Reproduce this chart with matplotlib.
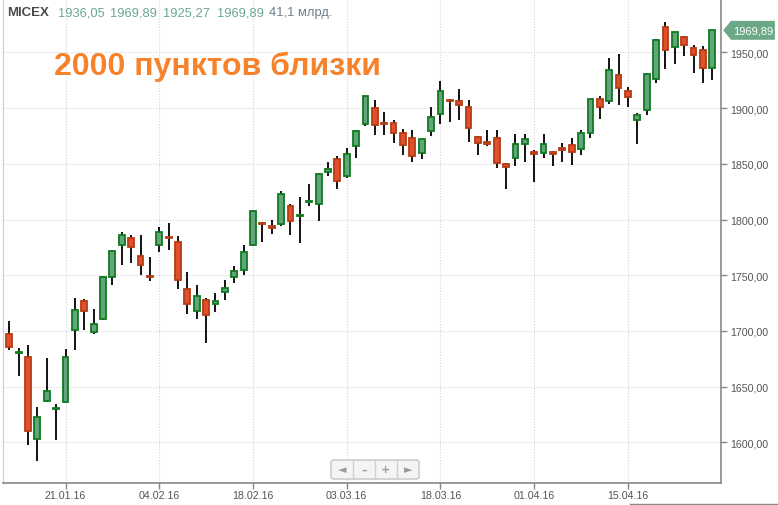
import numpy as np
import matplotlib
matplotlib.use("Agg")
import matplotlib.pyplot as plt
import matplotlib.transforms as mtransforms
from matplotlib.patches import Polygon, FancyBboxPatch
from matplotlib.lines import Line2D

plt.rcParams['font.family'] = ['Liberation Sans', 'DejaVu Sans']

# daily candles, 13.01.16 .. 22.04.16
opens = [1697, 1680, 1677, 1603, 1637, 1630, 1636, 1701, 1727, 1699,
         1711, 1748, 1777, 1783, 1767, 1749, 1777, 1784, 1780, 1738,
         1718, 1728, 1724, 1735, 1748, 1755, 1777, 1797, 1794, 1796,
         1812, 1803.5, 1816, 1814, 1843, 1854, 1839, 1866, 1885.5, 1900,
         1887, 1887, 1878, 1873, 1860, 1879.5, 1895, 1907, 1906, 1901,
         1874, 1870, 1873, 1850, 1855, 1867.5, 1861, 1860, 1861, 1864,
         1866.5, 1863, 1878, 1908, 1906, 1930, 1915, 1889, 1898, 1926,
         1972.5, 1955, 1963.5, 1954, 1952, 1936.05]
highs = [1709, 1685, 1687, 1632, 1676, 1634, 1684, 1730, 1729, 1720,
         1749, 1773, 1789, 1786, 1786, 1766, 1793, 1797, 1785, 1753,
         1741, 1730, 1734, 1746, 1758, 1777, 1809, 1797.5, 1800, 1826,
         1814, 1820, 1832, 1842, 1852, 1857, 1864, 1880, 1911, 1907,
         1897, 1889, 1881, 1880, 1872, 1901, 1924, 1908, 1917, 1907,
         1875, 1880, 1880, 1851, 1877, 1877, 1862, 1877, 1861.5, 1869,
         1873, 1880, 1908, 1911, 1945, 1949, 1919, 1896, 1931.5, 1962,
         1977, 1968, 1965, 1957, 1956, 1969.89]
lows = [1683, 1660, 1598, 1583, 1636, 1602, 1635, 1683, 1701, 1697,
        1710, 1741, 1759, 1761, 1750, 1745, 1771, 1773, 1738, 1715,
        1711, 1689, 1717, 1728, 1743, 1750, 1776, 1780, 1787, 1794,
        1786, 1779, 1812, 1799, 1839, 1827, 1837, 1855, 1884, 1876,
        1876, 1869, 1858, 1852, 1854, 1875, 1886, 1888, 1889, 1870,
        1858, 1866, 1846, 1827, 1848, 1852, 1834, 1855, 1848, 1852,
        1849, 1858, 1873, 1890, 1904, 1903, 1901, 1868, 1894, 1923,
        1935, 1939.5, 1946.5, 1932, 1923, 1925.27]
closes = [1686, 1681, 1610, 1623, 1646, 1631, 1677, 1719, 1718, 1706,
          1748, 1772, 1786, 1775, 1759, 1748, 1789, 1783, 1746, 1724,
          1731, 1714, 1727, 1739, 1754, 1771, 1808, 1796, 1792, 1823,
          1799, 1804.5, 1817, 1841, 1845, 1835, 1859, 1879.5, 1910.5, 1885,
          1886, 1878, 1867, 1857, 1872, 1892, 1915, 1906, 1903, 1882,
          1869, 1868, 1851, 1847, 1868, 1872, 1858.5, 1867.5, 1859, 1862,
          1861, 1878, 1908, 1901, 1934, 1918, 1910, 1893.5, 1931, 1961,
          1952, 1968, 1957, 1948, 1936.5, 1969.89]

date_pos = [6, 16, 26, 36, 46, 56, 66]
date_labels = ['21.01.16', '04.02.16', '18.02.16', '03.03.16', '18.03.16',
               '01.04.16', '15.04.16']
price_ticks = [1600, 1650, 1700, 1750, 1800, 1850, 1900, 1950]

header_name = 'MICEX'
header_vals = ['1936,05', '1969,89', '1925,27', '1969,89']
header_vol = '41,1 млрд.'
title = '2000 пунктов близки'

W, H = 778, 506
fig = plt.figure(figsize=(W / 100, H / 100), dpi=100, facecolor='white')
ax = fig.add_axes([3 / W, 22 / H, 718 / W, 484 / H])

o = np.array(opens)
h = np.array(highs)
l = np.array(lows)
c = np.array(closes)
x = np.arange(len(o))
up = c >= o

ax.vlines(x, l, h, color='black', linewidth=1.3, zorder=2)
bottom = np.minimum(o, c)
height = np.maximum(np.abs(c - o), 0.6)
ax.bar(x[up], height[up], bottom=bottom[up], width=0.62,
       color='#62a57a', edgecolor='#107a20', linewidth=1.3, zorder=3)
ax.bar(x[~up], height[~up], bottom=bottom[~up], width=0.62,
       color='#e0502c', edgecolor='#b53c14', linewidth=1.3, zorder=3)

ax.set_xlim(-0.67, 75.93)
ax.set_ylim(1563.5, 1998)

ax.yaxis.tick_right()
ax.set_yticks(price_ticks)
ax.set_yticklabels([f'{v:.2f}'.replace('.', ',') for v in price_ticks])
ax.set_xticks(date_pos)
ax.set_xticklabels(date_labels)
ax.tick_params(axis='both', colors='#888888', labelcolor='#555555',
               labelsize=7.7, length=4, width=1)
ax.tick_params(axis='y', pad=2.5)
ax.tick_params(axis='x', pad=1)

ax.grid(True, color='#d4d4d4', linestyle=(0, (1, 1.5)), linewidth=0.8)
ax.set_axisbelow(True)
ax.spines['top'].set_visible(False)
ax.spines['left'].set_color('#cccccc')
ax.spines['right'].set_color('#888888')
ax.spines['bottom'].set_color('#888888')
ax.spines['right'].set_linewidth(1.2)
ax.spines['bottom'].set_linewidth(1.2)

# last price tag
trans = mtransforms.blended_transform_factory(ax.transAxes, ax.transData)
last = closes[-1]
hh = 8.5
x0, tip, x1 = 1.003, 0.011, 1.075
tag = Polygon([(x0, last), (x0 + tip, last + hh), (x1, last + hh),
               (x1, last - hh), (x0 + tip, last - hh)],
              closed=True, transform=trans, facecolor='#6aa886',
              edgecolor='none', clip_on=False, zorder=5)
ax.add_patch(tag)
ax.text((x0 + tip + x1) / 2, last, f'{last:.2f}'.replace('.', ','),
        transform=trans, ha='center', va='center', color='white',
        fontsize=8, clip_on=False, zorder=6)

# header
fig.text(7 / W, 1 - 13 / H, header_name, fontsize=9.5, fontweight='bold',
         color='#4a4a4a', va='center', ha='left')
for xp, v in zip([58, 110, 163, 217], header_vals):
    fig.text(xp / W, 1 - 13 / H, v, fontsize=9.3, color='#6aa890',
             va='center', ha='left')
fig.text(269 / W, 1 - 13 / H, header_vol, fontsize=9.3, color='#6b7f8e',
         va='center', ha='left')

fig.text(54 / W, 1 - 67 / H, title, fontsize=23, fontweight='bold',
         color='#f7822a', va='center', ha='left')

# zoom buttons
bx0, by0, bw, bh = 331, 461, 88, 19
fig.patches.append(FancyBboxPatch((bx0 / W, 1 - (by0 + bh) / H), bw / W, bh / H,
                                  boxstyle='round,pad=0,rounding_size=0.004',
                                  transform=fig.transFigure, facecolor='#f4f4f4',
                                  edgecolor='#c4c4c4', linewidth=1))
for k in range(1, 4):
    xx = (bx0 + k * bw / 4) / W
    fig.lines.append(Line2D([xx, xx], [1 - (by0 + bh) / H, 1 - by0 / H],
                            transform=fig.transFigure, color='#d0d0d0', lw=1))
for k, sym in enumerate(['◄', '–', '+', '►']):
    fig.text((bx0 + (k + 0.5) * bw / 4) / W, 1 - (by0 + bh / 2) / H, sym,
             ha='center', va='center', fontsize=8, color='#9a9a9a',
             fontweight='bold', family=['DejaVu Sans'])

# top edge of the panel below
fig.lines.append(Line2D([630 / W, 1], [1 - 505 / H, 1 - 505 / H],
                        transform=fig.transFigure, color='#888888', lw=1))

fig.savefig('out.png', dpi=100, facecolor='white')
